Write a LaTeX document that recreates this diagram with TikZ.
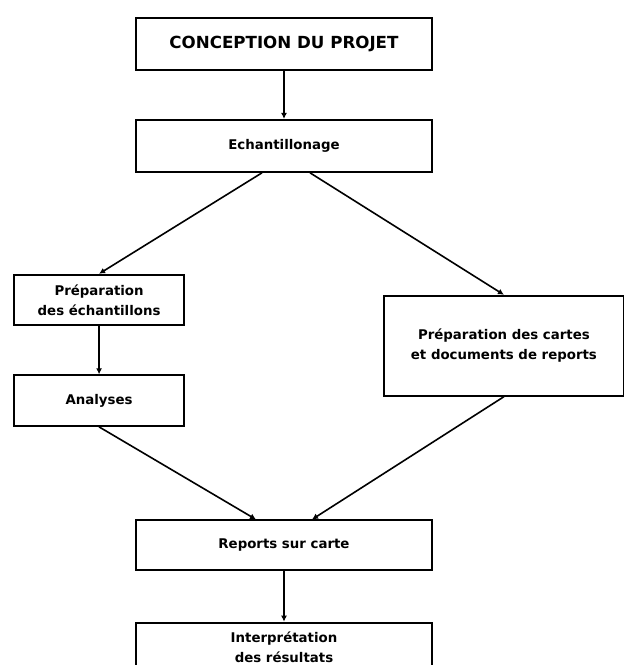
\documentclass[tikz,border=0pt]{standalone}
\usepackage{fontspec}
\setmainfont{DejaVu Sans}
\usepackage{tikz}
\usetikzlibrary{positioning,arrows.meta}
\tikzset{>={Latex[length=4.5pt,width=4.5pt]}}

\begin{document}
\begin{tikzpicture}[
boxnode/.style={rectangle, align=center, draw=black, line width=1.4pt, minimum width=222pt, minimum height=39pt, font=\fontsize{10}{15}\selectfont\bfseries},
sidenode/.style={boxnode, minimum width=128pt, minimum height=38pt},
link/.style={->, line width=1.2pt},
]
\useasboundingbox (0,0) rectangle (468pt,-498.75pt);
%Nodes
\node[boxnode, font=\fontsize{12.5}{15}\selectfont\bfseries](Conception) at (213pt,-33pt){CONCEPTION DU PROJET};
\node[boxnode](Echantillonage)[below=36pt of Conception]{Echantillonage};
\node[sidenode, anchor=north](PrepEch)[below=75.75pt of Echantillonage.south west, xshift=-27pt]{Préparation\\des échantillons};
\node[sidenode](Analyses)[below=36pt of PrepEch]{Analyses};
\node[boxnode, anchor=north, minimum width=180pt, minimum height=75pt](Cartes)[below=91.5pt of Echantillonage.south east, xshift=53.25pt]{Préparation des cartes\\et documents de reports};
\node[boxnode, minimum height=37pt](Reports)[below=260pt of Echantillonage]{Reports sur carte};
\node[boxnode, minimum height=37.5pt](Interpretation)[below=38.25pt of Reports]{Interprétation\\des résultats};

%Lines
\draw[link] (Conception) -- (Echantillonage);
\draw[link] ([xshift=-16.5pt]Echantillonage.south) -- (PrepEch.north);
\draw[link] ([xshift=19.5pt]Echantillonage.south) -- (Cartes.north);
\draw[link] (PrepEch) -- (Analyses);
\draw[link] (Analyses.south) -- ([xshift=-21pt]Reports.north);
\draw[link] (Cartes.south) -- ([xshift=21pt]Reports.north);
\draw[link] (Reports) -- (Interpretation);
\end{tikzpicture}
\end{document}
